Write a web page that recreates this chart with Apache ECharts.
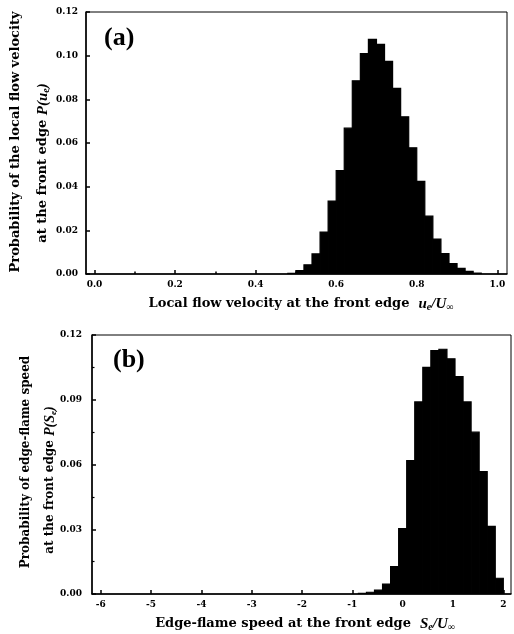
<!DOCTYPE html>
<html><head><meta charset="utf-8">
<script src="https://cdn.jsdelivr.net/npm/echarts@6/dist/echarts.min.js"></script>
<style>html,body{margin:0;padding:0;background:#fff}#c{width:514px;height:634px}</style>
</head><body><div id="c"></div>
<script>
// Panel (a): local flow velocity at the front edge, bin width 0.02
const binWidthA = 0.02;
const binCentersA = [0.49,0.51,0.53,0.55,0.57,0.59,0.61,0.63,0.65,0.67,0.69,0.71,0.73,0.75,0.77,0.79,0.81,0.83,0.85,0.87,0.89,0.91,0.93,0.95];
const probA = [0.0003,0.0016,0.0042,0.0092,0.0192,0.0334,0.0474,0.0668,0.0885,0.1010,0.1075,0.1052,0.0974,0.0850,0.0720,0.0578,0.0424,0.0265,0.0160,0.0093,0.0048,0.0026,0.0012,0.0004];
// Panel (b): edge-flame speed at the front edge, bin width 0.16
const binWidthB = 0.16;
const binCentersB = [-0.80,-0.64,-0.48,-0.32,-0.16,0.00,0.16,0.32,0.48,0.64,0.80,0.96,1.12,1.28,1.44,1.60,1.76,1.92];
const probB = [0.0003,0.0008,0.0018,0.0046,0.0127,0.0303,0.0618,0.0890,0.1050,0.1128,0.1134,0.1090,0.1007,0.0890,0.0750,0.0567,0.0313,0.0073];
// Tick positions
const xTicksA = [0,0.2,0.4,0.6,0.8,1.0];
const xMinorTicksA = [0.1,0.3,0.5,0.7,0.9];
const xTicksB = [-6,-5,-4,-3,-2,-1,0,1,2];

const chart = echarts.init(document.getElementById('c'), null, {renderer:'canvas'});
const labelFont = {fontFamily:'DejaVu Serif', fontWeight:'bold', fontSize:9, color:'#000'};

function histRender(w){
  return function(params, api){
    const x = api.value(0), y = api.value(1);
    const p0 = api.coord([x - w/2, y]);
    const p1 = api.coord([x + w/2, 0]);
    return {type:'rect', shape:{x:p0[0], y:p0[1], width:p1[0]-p0[0], height:p1[1]-p0[1]},
      style:{fill:'#000', stroke:'#000', lineWidth:1.2}};
  };
}

function richTitle(sz){
  return {
    n:{fontFamily:'DejaVu Serif', fontWeight:'bold', fontSize:sz, lineHeight:sz+4, color:'#000'},
    i:{fontFamily:'Liberation Serif', fontStyle:'italic', fontWeight:'bold', fontSize:sz+2, lineHeight:sz+4, color:'#000'},
    s:{fontFamily:'Liberation Serif', fontStyle:'italic', fontWeight:'bold', fontSize:sz-3, lineHeight:sz-3, verticalAlign:'bottom', color:'#000'}
  };
}

const axisLineStyle = {show:true, onZero:false, lineStyle:{color:'#000', width:1.5}};

const option = {
  animation:false,
  backgroundColor:'#fff',
  grid:[
    {left:86, top:12, width:421, height:262, show:true, borderColor:'#000', borderWidth:1},
    {left:92, top:335, width:419, height:259, show:true, borderColor:'#000', borderWidth:1}
  ],
  xAxis:[
    {gridIndex:0, type:'value', min:-0.021, max:1.024, axisLine:axisLineStyle,
     axisTick:{show:true, inside:true, length:4, customValues:xTicksA, lineStyle:{color:'#000', width:1.5}},
     axisLabel:Object.assign({customValues:xTicksA, margin:6, formatter:v=>Number(v).toFixed(1)}, labelFont),
     splitLine:{show:false}},
    {gridIndex:0, type:'value', min:-0.021, max:1.024, position:'bottom', axisLine:{show:false, onZero:false},
     axisTick:{show:true, inside:true, length:2.5, customValues:xMinorTicksA, lineStyle:{color:'#000', width:1.5}},
     axisLabel:{show:false}, splitLine:{show:false}},
    {gridIndex:1, type:'value', min:-6.175, max:2.153, axisLine:axisLineStyle,
     axisTick:{show:true, inside:true, length:4, customValues:xTicksB, lineStyle:{color:'#000', width:1.5}},
     axisLabel:Object.assign({customValues:xTicksB, margin:6, formatter:v=>String(Math.round(v))}, labelFont),
     splitLine:{show:false}}
  ],
  yAxis:[
    {gridIndex:0, type:'value', min:0, max:0.12, interval:0.02, axisLine:axisLineStyle,
     axisTick:{show:true, inside:true, length:4, lineStyle:{color:'#000', width:1.5}},
     axisLabel:Object.assign({margin:8, formatter:v=>Number(v).toFixed(2)}, labelFont),
     splitLine:{show:false}},
    {gridIndex:1, type:'value', min:0, max:0.12, interval:0.03, axisLine:axisLineStyle,
     axisTick:{show:true, inside:true, length:4, lineStyle:{color:'#000', width:1.5}},
     minorTick:{show:true, splitNumber:2, length:2.5, lineStyle:{color:'#000', width:1.2}},
     axisLabel:Object.assign({margin:10, formatter:v=>Number(v).toFixed(2)}, labelFont),
     splitLine:{show:false}}
  ],
  series:[
    {type:'custom', xAxisIndex:0, yAxisIndex:0, clip:true, renderItem:histRender(binWidthA),
     data:binCentersA.map((c,i)=>[c, probA[i]])},
    {type:'custom', xAxisIndex:2, yAxisIndex:1, clip:true, renderItem:histRender(binWidthB),
     data:binCentersB.map((c,i)=>[c, probB[i]])}
  ],
  graphic:[
    {type:'text', left:104, top:25, style:{text:'(a)', font:'bold 26px "Liberation Serif"', fill:'#000'}},
    {type:'text', left:113, top:347, style:{text:'(b)', font:'bold 26px "Liberation Serif"', fill:'#000'}},
    {type:'text', x:16, y:142, rotation:Math.PI/2,
     style:{text:'Probability of the local flow velocity', font:'bold 13px "DejaVu Serif"', fill:'#000', align:'center', verticalAlign:'middle'}},
    {type:'text', x:43, y:163, rotation:Math.PI/2,
     style:{text:'{n|at the front edge }{i|P(u}{s|e}{i|)}', rich:richTitle(13), align:'center', verticalAlign:'middle'}},
    {type:'text', x:26, y:462, rotation:Math.PI/2,
     style:{text:'Probability of edge-flame speed', font:'bold 12px "DejaVu Serif"', fill:'#000', align:'center', verticalAlign:'middle'}},
    {type:'text', x:50, y:480, rotation:Math.PI/2,
     style:{text:'{n|at the front edge }{i|P(S}{s|e}{i|)}', rich:richTitle(12), align:'center', verticalAlign:'middle'}},
    {type:'text', x:301, y:304,
     style:{text:'{n|Local flow velocity at the front edge  }{i|u}{s|e}{i|/U}{s|\u221e}', rich:richTitle(13), align:'center', verticalAlign:'middle'}},
    {type:'text', x:305, y:624,
     style:{text:'{n|Edge-flame speed at the front edge  }{i|S}{s|e}{i|/U}{s|\u221e}', rich:richTitle(13), align:'center', verticalAlign:'middle'}}
  ]
};
chart.setOption(option);
</script>
</body></html>
